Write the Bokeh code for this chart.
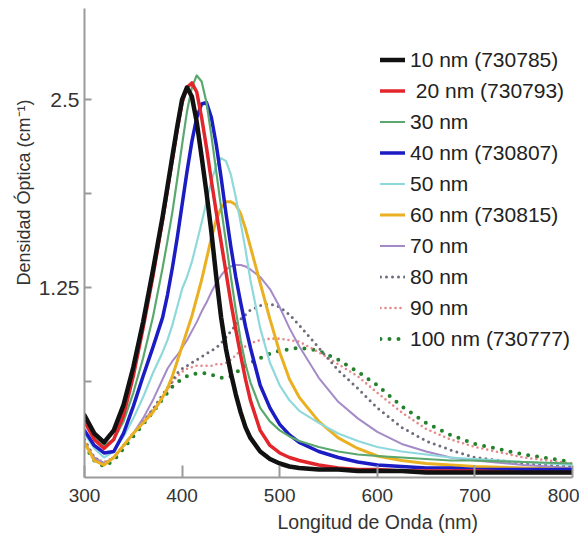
from bokeh.plotting import figure
from bokeh.models import Legend, LegendItem, FixedTicker, Range1d, Title
from bokeh.embed import file_html
from bokeh.resources import INLINE

wavelength = [300, 310, 320, 330, 340, 350, 360, 370, 380, 385, 390, 395, 400, 405, 410, 415,
              420, 425, 430, 435, 440, 445, 450, 455, 460, 465, 470, 480, 490, 500, 510, 520,
              540, 560, 580, 600, 625, 650, 675, 700, 750, 800]

s10 = [0.40, 0.28, 0.22, 0.30, 0.47, 0.72, 1.02, 1.36, 1.72, 1.92, 2.12, 2.32, 2.50, 2.58, 2.52, 2.35,
       2.12, 1.88, 1.62, 1.32, 1.05, 0.84, 0.68, 0.54, 0.42, 0.32, 0.25, 0.16, 0.11, 0.08, 0.06, 0.05,
       0.04, 0.04, 0.03, 0.03, 0.03, 0.02, 0.02, 0.02, 0.02, 0.02]
s20 = [0.36, 0.24, 0.18, 0.24, 0.40, 0.66, 0.98, 1.32, 1.70, 1.90, 2.10, 2.30, 2.48, 2.58, 2.61, 2.55,
       2.38, 2.18, 1.96, 1.75, 1.55, 1.35, 1.15, 0.97, 0.80, 0.64, 0.50, 0.30, 0.20, 0.15, 0.12, 0.10,
       0.07, 0.05, 0.04, 0.04, 0.03, 0.03, 0.03, 0.03, 0.02, 0.02]
s30 = [0.36, 0.26, 0.20, 0.24, 0.36, 0.55, 0.78, 1.05, 1.38, 1.56, 1.75, 1.97, 2.20, 2.42, 2.58, 2.66,
       2.62, 2.48, 2.26, 2.02, 1.78, 1.55, 1.32, 1.10, 0.90, 0.74, 0.62, 0.45, 0.36, 0.30, 0.26, 0.23,
       0.19, 0.16, 0.14, 0.13, 0.12, 0.11, 0.10, 0.10, 0.09, 0.08]
s40 = [0.30, 0.20, 0.15, 0.16, 0.28, 0.46, 0.66, 0.85, 1.05, 1.20, 1.38, 1.58, 1.80, 2.02, 2.22, 2.38,
       2.47, 2.48, 2.38, 2.20, 1.98, 1.74, 1.52, 1.32, 1.15, 0.99, 0.85, 0.60, 0.45, 0.34, 0.27, 0.22,
       0.16, 0.12, 0.09, 0.07, 0.06, 0.05, 0.05, 0.04, 0.04, 0.04]
s50 = [0.28, 0.18, 0.12, 0.16, 0.26, 0.38, 0.52, 0.68, 0.82, 0.90, 1.00, 1.12, 1.24, 1.32, 1.42, 1.55,
       1.68, 1.82, 1.96, 2.06, 2.11, 2.09, 2.00, 1.85, 1.68, 1.50, 1.30, 0.98, 0.75, 0.60, 0.50, 0.43,
       0.35, 0.28, 0.23, 0.19, 0.16, 0.14, 0.12, 0.11, 0.09, 0.07]
s60 = [0.22, 0.10, 0.07, 0.12, 0.20, 0.28, 0.35, 0.42, 0.52, 0.58, 0.66, 0.76, 0.86, 0.96, 1.06, 1.18,
       1.30, 1.44, 1.58, 1.70, 1.78, 1.82, 1.82, 1.80, 1.74, 1.64, 1.52, 1.28, 1.04, 0.82, 0.64, 0.52,
       0.36, 0.25, 0.18, 0.13, 0.10, 0.08, 0.07, 0.06, 0.05, 0.04]
s70 = [0.22, 0.12, 0.08, 0.12, 0.20, 0.28, 0.38, 0.50, 0.64, 0.71, 0.76, 0.80, 0.85, 0.90, 0.96, 1.02,
       1.09, 1.15, 1.22, 1.28, 1.33, 1.37, 1.39, 1.40, 1.40, 1.39, 1.37, 1.32, 1.24, 1.12, 0.98, 0.86,
       0.65, 0.49, 0.38, 0.29, 0.21, 0.16, 0.12, 0.10, 0.07, 0.05]
s80 = [0.24, 0.12, 0.08, 0.12, 0.20, 0.28, 0.36, 0.44, 0.54, 0.58, 0.63, 0.68, 0.71, 0.73, 0.75, 0.77,
       0.79, 0.81, 0.83, 0.85, 0.88, 0.92, 0.96, 1.00, 1.04, 1.07, 1.10, 1.13, 1.14, 1.12, 1.07, 1.00,
       0.85, 0.70, 0.58, 0.45, 0.32, 0.23, 0.17, 0.12, 0.08, 0.06]
s90 = [0.22, 0.12, 0.09, 0.12, 0.20, 0.28, 0.36, 0.44, 0.52, 0.57, 0.62, 0.66, 0.69, 0.71, 0.72, 0.73,
       0.73, 0.73, 0.73, 0.74, 0.74, 0.75, 0.77, 0.80, 0.83, 0.86, 0.88, 0.90, 0.91, 0.91, 0.90, 0.89,
       0.82, 0.74, 0.66, 0.55, 0.42, 0.31, 0.24, 0.19, 0.12, 0.08]
s100 = [0.20, 0.10, 0.06, 0.10, 0.18, 0.26, 0.34, 0.42, 0.51, 0.55, 0.59, 0.62, 0.64, 0.66, 0.67, 0.68,
        0.68, 0.68, 0.67, 0.66, 0.65, 0.65, 0.66, 0.68, 0.71, 0.73, 0.75, 0.78, 0.81, 0.83, 0.84, 0.85,
        0.83, 0.77, 0.69, 0.60, 0.46, 0.35, 0.27, 0.21, 0.14, 0.09]

labels = ["10 nm (730785)", " 20 nm (730793)", "30 nm", "40 nm (730807)", "50 nm",
          "60 nm (730815)", "70 nm", "80 nm", "90 nm", "100 nm (730777)"]
x_ticks = [300, 400, 500, 600, 700, 800]
y_ticks = [0.625, 1.25, 1.875, 2.5]
y_tick_labels = {0.625: "", 1.25: "1.25", 1.875: "", 2.5: "2.5"}

series = [s10, s20, s30, s40, s50, s60, s70, s80, s90, s100]
styles = [
    dict(color="#111111", width=4.5, dash="solid"),
    dict(color="#e3262b", width=3.5, dash="solid"),
    dict(color="#5aa86e", width=2.2, dash="solid"),
    dict(color="#1c1cc4", width=3.5, dash="solid"),
    dict(color="#8fd9dc", width=2.2, dash="solid"),
    dict(color="#eab021", width=3.0, dash="solid"),
    dict(color="#a58ac8", width=2.0, dash="solid"),
    dict(color="#6c6c7c", width=3.0, dash="0 6"),
    dict(color="#e58a8a", width=2.6, dash="0 5"),
    dict(color="#23822b", width=4.0, dash="0 9"),
]

FONT = "Liberation Sans"

p = figure(width=579, height=538, output_backend="svg", toolbar_location=None,
           x_range=Range1d(300, 800), y_range=Range1d(-0.013, 3.105),
           min_border_left=84, min_border_right=7, min_border_top=8, min_border_bottom=61)
p.outline_line_color = None
p.xgrid.visible = False
p.ygrid.visible = False

renderers = []
for s, st in zip(series, styles):
    r = p.line(wavelength, s, line_color=st["color"], line_width=st["width"],
               line_dash=st["dash"], line_cap="round", line_join="round")
    renderers.append(r)
# draw order: 10 nm on top
p.renderers = list(reversed(p.renderers))

items = [LegendItem(label=l, renderers=[r]) for l, r in zip(labels, renderers)]
legend = Legend(items=items, location=(296, 123))
legend.label_text_font = FONT
legend.label_text_font_size = "21px"
legend.label_text_color = "#222222"
legend.glyph_width = 25
legend.glyph_height = 31
legend.label_height = 31
legend.spacing = 0
legend.padding = 0
legend.margin = 0
legend.label_standoff = 5
legend.border_line_alpha = 0
legend.background_fill_alpha = 0
p.add_layout(legend)

for ax in (p.xaxis[0], p.yaxis[0]):
    ax.axis_line_color = "#9a9a9a"
    ax.axis_line_width = 2
    ax.major_tick_line_color = "#9a9a9a"
    ax.major_tick_line_width = 2
    ax.minor_tick_line_color = None
    ax.major_tick_out = 0
    ax.major_label_text_font = FONT
    ax.major_label_text_color = "#333333"

p.xaxis.ticker = FixedTicker(ticks=x_ticks)
p.xaxis.major_tick_in = 12
p.xaxis.major_label_standoff = 11
p.xaxis.major_label_text_font_size = "19px"
p.yaxis.ticker = FixedTicker(ticks=y_ticks)
p.yaxis.major_label_overrides = y_tick_labels
p.yaxis.major_tick_in = 7
p.yaxis.major_label_standoff = 5
p.yaxis.major_label_text_font_size = "21px"

xt = Title(text="Longitud de Onda (nm)", align="left", offset=193, standoff=9,
           text_font=FONT, text_font_size="19.5px", text_font_style="normal",
           text_color="#333333")
yt = Title(text="Densidad Óptica (cm⁻¹)", align="left", offset=192, standoff=4,
           text_font=FONT, text_font_size="18px", text_font_style="normal",
           text_color="#333333")
p.add_layout(xt, "below")
p.add_layout(yt, "left")

open("out.html", "w").write(file_html(p, INLINE))
